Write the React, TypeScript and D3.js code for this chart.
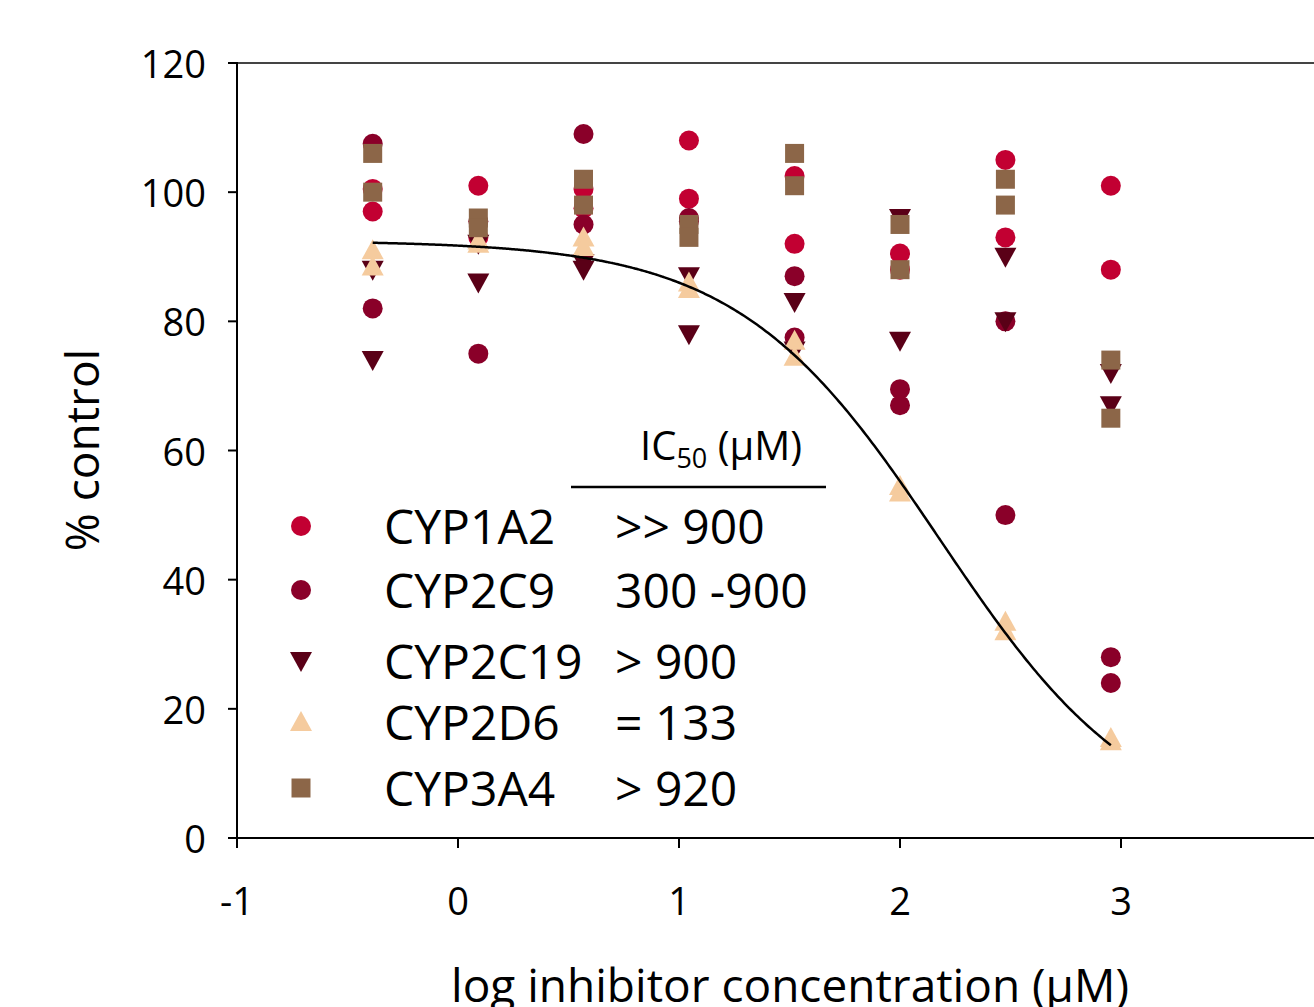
import React from "react";
import * as d3 from "d3";

// ---- data ----
const logConc = [-0.386, 0.092, 0.568, 1.045, 1.523, 2.0, 2.477, 2.954];

const seriesNames = ["CYP1A2", "CYP2C9", "CYP2C19", "CYP2D6", "CYP3A4"];
const ic50Labels = [">> 900", "300 -900", "> 900", "= 133", "> 920"];
const seriesColors = ["#C20032", "#8A0029", "#5A0017", "#F5CB9E", "#8C6648"];
const seriesShapes = ["circle", "circle", "triangleDown", "triangleUp", "square"];

const cyp1a2Rep1 = [100.5, 101, 100.5, 108, 102.5, 90.5, 105, 101];
const cyp1a2Rep2 = [97, 93, 97.5, 99, 92, 88, 93, 88];
const cyp2c9Rep1 = [107.5, 95.5, 109, 96, 87, 69.5, 80, 28];
const cyp2c9Rep2 = [82, 75, 95, 95.5, 77.5, 67, 50, 24];
const cyp2c19Rep1 = [88, 92, 89, 87, 83, 96, 90, 72];
const cyp2c19Rep2 = [74, 86, 88, 78, 75.5, 77, 80, 67];
const cyp2d6Rep1 = [91, 92.5, 93, 86, 77, 54.5, 33.5, 15.5];
const cyp2d6Rep2 = [88.5, 92, 91.5, 85, 74.5, 53.5, 32, 15];
const cyp3a4Rep1 = [106, 96, 102, 95, 106, 95, 102, 74];
const cyp3a4Rep2 = [100, 94.5, 98, 93, 101, 88, 98, 65];

const seriesReps = [
  [cyp1a2Rep1, cyp1a2Rep2],
  [cyp2c9Rep1, cyp2c9Rep2],
  [cyp2c19Rep1, cyp2c19Rep2],
  [cyp2d6Rep1, cyp2d6Rep2],
  [cyp3a4Rep1, cyp3a4Rep2],
];

// fitted CYP2D6 sigmoid (top, bottom, logIC50, hill)
const fitTop = 92.5;
const fitBottom = 0;
const fitLogIC50 = 2.18;
const fitHill = 0.95;

const xTicks = [-1, 0, 1, 2, 3];
const yTicks = [0, 20, 40, 60, 80, 100, 120];

const W = 1314;
const H = 1007;
const FONT = "'Open Sans', 'Noto Sans', sans-serif";

function markerPath(shape: string): string {
  const p = d3.path();
  if (shape === "circle") {
    p.arc(0, 0, 10, 0, Math.PI * 2);
    p.closePath();
  } else if (shape === "square") {
    p.rect(-9.5, -9.5, 19, 19);
  } else if (shape === "triangleUp") {
    p.moveTo(0, -11);
    p.lineTo(11, 9);
    p.lineTo(-11, 9);
    p.closePath();
  } else {
    p.moveTo(0, 11);
    p.lineTo(11, -9);
    p.lineTo(-11, -9);
    p.closePath();
  }
  return p.toString();
}

export default function App() {
  const x = d3.scaleLinear().domain([-1, 3]).range([237, 1121]);
  const y = d3.scaleLinear().domain([0, 120]).range([838, 63]);

  const fitXs = d3.range(logConc[0], logConc[logConc.length - 1] + 1e-9, 0.01);
  const fitFn = (v: number) =>
    fitBottom + (fitTop - fitBottom) / (1 + Math.pow(10, (v - fitLogIC50) * fitHill));
  const line = d3
    .line<number>()
    .x((d) => x(d))
    .y((d) => y(fitFn(d)))
    .curve(d3.curveMonotoneX);

  const legendX = 301;
  const legendRowsY = [526, 590, 661, 722, 788];

  return (
    <svg
      width={W}
      height={H}
      style={{ position: "absolute", left: 0, top: 0, background: "#fff" }}
      fontFamily={FONT}
    >
      <rect x={0} y={0} width={W} height={H} fill="#fff" />
      {/* top frame line */}
      <line x1={237} x2={W} y1={63} y2={63} stroke="#444" strokeWidth={2} />
      {/* y axis */}
      <line x1={237} x2={237} y1={62} y2={848} stroke="#000" strokeWidth={2} />
      {yTicks.map((t) => (
        <g key={"y" + t}>
          <line x1={228} x2={237} y1={y(t)} y2={y(t)} stroke="#000" strokeWidth={2} />
          <text
            x={206}
            y={y(t)}
            textAnchor="end"
            dominantBaseline="central"
            fontSize={38}
            fill="#000"
          >
            {t}
          </text>
        </g>
      ))}
      {/* x axis */}
      <line x1={228} x2={W} y1={838} y2={838} stroke="#000" strokeWidth={2} />
      {xTicks.map((t) => (
        <g key={"x" + t}>
          <line x1={x(t)} x2={x(t)} y1={838} y2={848} stroke="#000" strokeWidth={2} />
          <text x={x(t)} y={915} textAnchor="middle" fontSize={38} fill="#000">
            {t}
          </text>
        </g>
      ))}
      {/* axis titles */}
      <text x={790} y={1002} textAnchor="middle" fontSize={46} fill="#000">
        log inhibitor concentration (µM)
      </text>
      <text
        transform={`translate(99,450) rotate(-90)`}
        textAnchor="middle"
        fontSize={46}
        fill="#000"
      >
        % control
      </text>

      {/* data points */}
      {seriesReps.map((reps, si) => (
        <g key={"s" + si} fill={seriesColors[si]}>
          {reps.map((rep, ri) =>
            rep.map((v, ci) => (
              <path
                key={ri + "-" + ci}
                d={markerPath(seriesShapes[si])}
                transform={`translate(${x(logConc[ci])},${y(v)})`}
              />
            ))
          )}
        </g>
      ))}

      {/* fitted curve */}
      <path d={line(fitXs) || ""} fill="none" stroke="#000" strokeWidth={2.5} />

      {/* legend */}
      <text x={640} y={460} fontSize={40} fill="#000">
        IC
        <tspan fontSize={27} dy={8}>50</tspan>
        <tspan dy={-8}> (µM)</tspan>
      </text>
      <line x1={571} x2={826} y1={487} y2={487} stroke="#000" strokeWidth={2.5} />
      {seriesNames.map((name, i) => (
        <g key={"l" + i}>
          <path
            d={markerPath(seriesShapes[i])}
            transform={`translate(${legendX},${legendRowsY[i]})`}
            fill={seriesColors[i]}
          />
          <text x={384} y={legendRowsY[i] + 18} fontSize={48} fill="#000">
            {name}
          </text>
          <text x={615} y={legendRowsY[i] + 18} fontSize={48} fill="#000">
            {ic50Labels[i]}
          </text>
        </g>
      ))}
    </svg>
  );
}
